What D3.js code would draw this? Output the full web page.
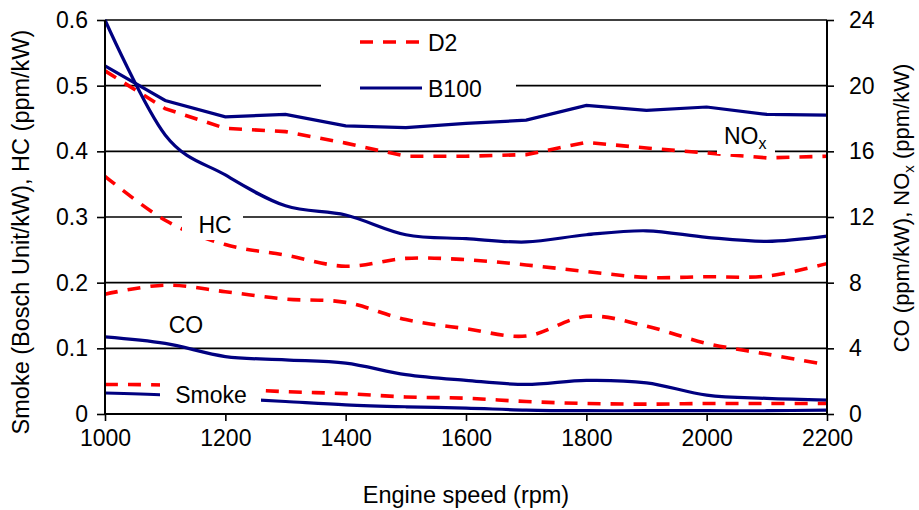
<!DOCTYPE html>
<html>
<head>
<meta charset="utf-8">
<script src="https://cdn.jsdelivr.net/npm/d3@7"></script>
<style>
  body { margin: 0; background: #fff; }
  svg text { font-family: Arial, "Liberation Sans", sans-serif; fill: #000; }
</style>
</head>
<body>
<div id="chart"></div>
<script>
'use strict';

// Engine speed (rpm)
var rpm = [1000, 1100, 1200, 1300, 1400, 1500, 1600, 1700, 1800, 1900, 2000, 2100, 2200];

// Left axis: Smoke (Bosch Unit/kW), HC (ppm/kW)
var hcD2 = [0.362, 0.295, 0.258, 0.242, 0.225, 0.237, 0.235, 0.227, 0.217, 0.208, 0.209, 0.210, 0.229];
var hcB100 = [0.600, 0.425, 0.364, 0.317, 0.303, 0.273, 0.267, 0.262, 0.273, 0.279, 0.269, 0.263, 0.271];
var smokeD2 = [0.045, 0.044, 0.039, 0.034, 0.031, 0.026, 0.024, 0.019, 0.016, 0.015, 0.016, 0.016, 0.016];
var smokeB100 = [0.032, 0.029, 0.024, 0.019, 0.014, 0.011, 0.009, 0.006, 0.005, 0.005, 0.005, 0.005, 0.006];

// Right axis: CO (ppm/kW), NOx (ppm/kW)
var noxD2 = [20.9, 18.6, 17.4, 17.2, 16.5, 15.7, 15.7, 15.8, 16.55, 16.2, 15.9, 15.6, 15.7];
var noxB100 = [21.2, 19.1, 18.1, 18.25, 17.55, 17.45, 17.7, 17.9, 18.8, 18.5, 18.7, 18.25, 18.2];
var coD2 = [7.3, 7.85, 7.45, 7.0, 6.8, 5.75, 5.2, 4.75, 5.95, 5.35, 4.3, 3.65, 3.0];
var coB100 = [4.7, 4.3, 3.5, 3.3, 3.1, 2.4, 2.05, 1.8, 2.05, 1.9, 1.15, 0.95, 0.85];

var xTicks = [1000, 1200, 1400, 1600, 1800, 2000, 2200];
var leftTicks = [0, 0.1, 0.2, 0.3, 0.4, 0.5, 0.6];
var rightTicks = [0, 4, 8, 12, 16, 20, 24];

var RED = '#ff0000', BLUE = '#000080';
var W = 919, H = 510;
var plot = { left: 105, right: 827, top: 20, bottom: 414 };

var svg = d3.select('#chart').append('svg')
  .attr('width', W)
  .attr('height', H);

var x = d3.scaleLinear().domain([1000, 2200]).range([plot.left, plot.right]);
var yL = d3.scaleLinear().domain([0, 0.6]).range([plot.bottom, plot.top]);
var yR = d3.scaleLinear().domain([0, 24]).range([plot.bottom, plot.top]);

// Gridlines
svg.append('g').selectAll('line')
  .data(leftTicks.slice(1))
  .join('line')
  .attr('x1', plot.left).attr('x2', plot.right)
  .attr('y1', function (d) { return yL(d); })
  .attr('y2', function (d) { return yL(d); })
  .attr('stroke', '#000').attr('stroke-width', 1.6);

// Series
var smooth = d3.curveCardinal.tension(0);
var series = [
  { vals: noxB100, y: yR, color: BLUE, dash: null, curve: d3.curveLinear },
  { vals: noxD2, y: yR, color: RED, dash: '13,10', curve: d3.curveLinear },
  { vals: hcB100, y: yL, color: BLUE, dash: null, curve: smooth },
  { vals: hcD2, y: yL, color: RED, dash: '13,10', curve: smooth },
  { vals: coD2, y: yR, color: RED, dash: '13,10', curve: smooth },
  { vals: coB100, y: yR, color: BLUE, dash: null, curve: smooth },
  { vals: smokeD2, y: yL, color: RED, dash: '13,10', curve: smooth },
  { vals: smokeB100, y: yL, color: BLUE, dash: null, curve: smooth }
];

series.forEach(function (s) {
  var line = d3.line()
    .x(function (d, i) { return x(rpm[i]); })
    .y(function (d) { return s.y(d); })
    .curve(s.curve);
  svg.append('path')
    .attr('d', line(s.vals))
    .attr('fill', 'none')
    .attr('stroke', s.color)
    .attr('stroke-width', s.color === RED ? 3.6 : 3.2)
    .attr('stroke-dasharray', s.dash);
});

// White label boxes (drawn over series, like the text boxes in the original)
function labelBox(x0, y0, x1, y1) {
  svg.append('rect')
    .attr('x', x0).attr('y', y0)
    .attr('width', x1 - x0).attr('height', y1 - y0)
    .attr('fill', '#fff');
}
labelBox(321, 22, 516, 104);   // legend
labelBox(182, 207, 243, 240);  // HC
labelBox(717, 116, 775, 154);  // NOx
labelBox(160, 376, 261, 405);  // Smoke

var FS = 23;

function label(tx, ty, str) {
  return svg.append('text')
    .attr('x', tx).attr('y', ty)
    .attr('text-anchor', 'middle')
    .style('font-size', FS + 'px')
    .text(str);
}
label(215, 233, 'HC');
label(186, 333, 'CO');
label(211, 403, 'Smoke');
var noxLbl = svg.append('text')
  .attr('x', 724).attr('y', 144)
  .style('font-size', FS + 'px');
noxLbl.append('tspan').text('NO');
noxLbl.append('tspan').attr('dy', 5).style('font-size', '16px').text('x');

// Legend
var legend = [
  { name: 'D2', color: RED, dash: '13,10', y: 42 },
  { name: 'B100', color: BLUE, dash: null, y: 88 }
];
legend.forEach(function (l) {
  svg.append('line')
    .attr('x1', 360).attr('x2', 422)
    .attr('y1', l.y).attr('y2', l.y)
    .attr('stroke', l.color)
    .attr('stroke-width', l.color === RED ? 3.6 : 3.2)
    .attr('stroke-dasharray', l.dash);
  svg.append('text')
    .attr('x', 428).attr('y', l.y + 8.5)
    .style('font-size', FS + 'px')
    .text(l.name);
});

// Axes
var xAxis = d3.axisBottom(x).tickValues(xTicks).tickSize(7).tickPadding(9).tickFormat(d3.format('d'));
var yAxisL = d3.axisLeft(yL).tickValues(leftTicks).tickSize(8).tickPadding(9)
  .tickFormat(function (d) { return d === 0 ? '0' : d3.format('.1f')(d); });
var yAxisR = d3.axisRight(yR).tickValues(rightTicks).tickSize(7).tickPadding(15).tickFormat(d3.format('d'));

function styleAxis(g) {
  g.select('.domain').attr('stroke', '#000').attr('stroke-width', 2);
  g.selectAll('.tick line').attr('stroke', '#000').attr('stroke-width', 1.6);
  g.selectAll('.tick text')
    .style('font-size', FS + 'px')
    .style('font-family', 'Arial, "Liberation Sans", sans-serif')
    .attr('fill', '#000');
}

svg.append('g').attr('transform', 'translate(0,' + plot.bottom + ')')
  .call(xAxis).call(styleAxis)
  .call(function (g) { g.select('.domain').attr('d', 'M' + plot.left + ',0H' + plot.right); });
svg.append('g').attr('transform', 'translate(' + plot.left + ',0)')
  .call(yAxisL).call(styleAxis)
  .call(function (g) { g.select('.domain').attr('d', 'M0,' + plot.bottom + 'V' + plot.top); });
svg.append('g').attr('transform', 'translate(' + plot.right + ',0)')
  .call(yAxisR).call(styleAxis)
  .call(function (g) { g.select('.domain').attr('d', 'M0,' + plot.bottom + 'V' + plot.top); });

// Axis titles
svg.append('text')
  .attr('x', (plot.left + plot.right) / 2).attr('y', 503)
  .attr('text-anchor', 'middle')
  .style('font-size', '23.5px')
  .text('Engine speed (rpm)');

svg.append('text')
  .attr('transform', 'translate(29,232) rotate(-90)')
  .attr('text-anchor', 'middle')
  .style('font-size', '23.5px')
  .text('Smoke (Bosch Unit/kW), HC (ppm/kW)');

var rt = svg.append('text')
  .attr('transform', 'translate(909,208) rotate(-90)')
  .attr('text-anchor', 'middle')
  .style('font-size', '22px');
rt.append('tspan').text('CO (ppm/kW), NO');
rt.append('tspan').attr('dy', 5).style('font-size', '15px').text('x');
rt.append('tspan').attr('dy', -5).text(' (ppm/kW)');
</script>
</body>
</html>
